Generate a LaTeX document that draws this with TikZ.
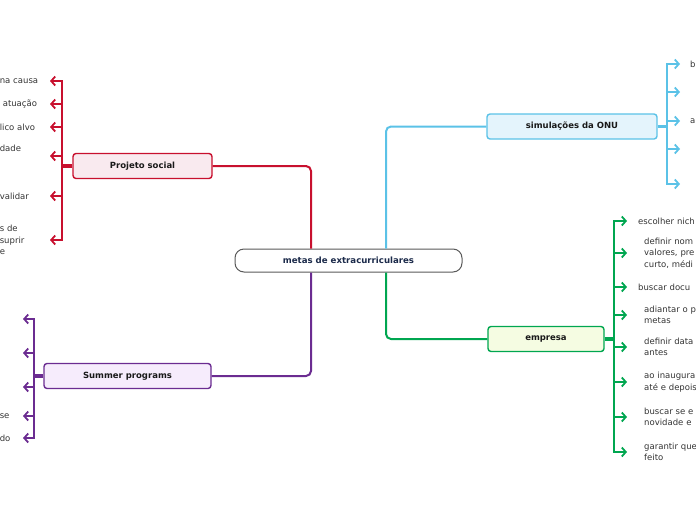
\documentclass[tikz,border=0pt]{standalone}
\usepackage{fontspec}
\setmainfont{DejaVu Sans}
\usetikzlibrary{arrows.meta}
\definecolor{rosso}{HTML}{C8102E}
\definecolor{rossobg}{HTML}{F9EAEF}
\definecolor{ceu}{HTML}{5BC2E7}
\definecolor{ceubg}{HTML}{E4F4FC}
\definecolor{verde}{HTML}{00A650}
\definecolor{verdebg}{HTML}{F5FCE2}
\definecolor{roxo}{HTML}{6B2C91}
\definecolor{roxobg}{HTML}{F6ECFC}
\definecolor{navy}{HTML}{1B2A4A}
\tikzset{
  root/.style={rectangle,draw=black!65,fill=white,line width=1pt,rounded corners=9pt,minimum width=227pt,minimum height=23pt,font=\fontsize{8.6}{10}\selectfont\bfseries,text=navy},
  topic/.style={rectangle,draw=#1,fill=#1bg,line width=1.4pt,rounded corners=3pt,minimum height=25pt,font=\fontsize{8.5}{10}\selectfont\bfseries,text=black!90},
  leaf/.style={font=\fontsize{8.5}{11.5}\selectfont,text=black!80,align=left,inner ysep=0pt},
  leafL/.style={leaf,anchor=east,inner xsep=0pt,text width=#1},
  leafR/.style={leaf,anchor=west,inner xsep=11pt,text width=80pt},
  indent/.style={inner xsep=17pt},
  branch/.style={draw=#1,line width=2pt,rounded corners=5pt},
  stub/.style={draw=#1,line width=3.5pt},
  line/.style={draw=#1,line width=1.8pt,-{Straight Barb[length=4pt,width=9pt]}}
}
\begin{document}
\begin{tikzpicture}[x=1pt,y=-1pt]
\useasboundingbox (0,0) rectangle (696,520);
% centro
\node[root] (cn) at (348.5,260.5) {metas de extracurriculares};
\node[topic=rosso, minimum width=139pt] (ps) at (142.5,166) {Projeto social};
\node[topic=roxo, minimum width=167pt] (sp) at (127.5,376) {Summer programs};
\node[topic=ceu, minimum width=170pt] (onu) at (572,126.5) {simulações da ONU};
\node[topic=verde, minimum width=116pt] (emp) at (546,339) {empresa};
\draw[branch=rosso] ([xshift=-37.5]cn.north) |- (ps.east);
\draw[branch=ceu] ([xshift=37.5]cn.north) |- (onu.west);
\draw[branch=roxo] ([xshift=-37.5]cn.south) |- (sp.east);
\draw[branch=verde] ([xshift=37.5]cn.south) |- (emp.west);

% Projeto social
\coordinate (rsp) at ([xshift=-10]ps.west);
\node[leafL=50pt] (r1) at (50,81) {na causa};
\node[leafL=50pt] (r2) at (50,104) {\hspace*{3pt}atuação};
\node[leafL=50pt] (r3) at (50,127) {lico alvo};
\node[leafL=50pt] (r4) at (50,156) {dade\\\strut};
\node[leafL=50pt] (r5) at (50,196) {validar};
\node[leafL=50pt] (r6) at (50,240) {s de\\suprir\\e};
\draw[stub=rosso] (ps.west) -- (rsp);
\foreach \n in {r1,r2,r3,r4,r5,r6}
  \draw[line=rosso] (rsp) |- (\n.east);

% Summer programs
\coordinate (psp) at ([xshift=-9]sp.west);
\node[leafL=23pt] (p1) at (23,319) {};
\node[leafL=23pt] (p2) at (23,353) {};
\node[leafL=23pt] (p3) at (23,387) {};
\node[leafL=23pt] (p4) at (23,416) {se};
\node[leafL=23pt] (p5) at (23,438) {do};
\draw[stub=roxo] (sp.west) -- (psp);
\foreach \n in {p1,p2,p3,p4,p5}
  \draw[line=roxo] (psp) |- (\n.east);

% simulações da ONU
\coordinate (bsp) at ([xshift=9]onu.east);
\node[leafR, inner xsep=10pt] (b1) at (680,64) {b};
\node[leafR] (b2) at (680,92) {};
\node[leafR, inner xsep=10pt] (b3) at (680,121) {a};
\node[leafR] (b4) at (680,149) {};
\node[leafR] (b5) at (680,184) {};
\draw[stub=ceu] (onu.east) -- (bsp);
\foreach \n in {b1,b2,b3,b4,b5}
  \draw[line=ceu] (bsp) |- (\n.west);

% empresa
\coordinate (gsp) at ([xshift=9]emp.east);
\node[leafR] (g1) at (627,221) {escolher nich};
\node[leafR, indent] (g2) at (627,253) {definir nom\\valores, pre\\curto, médi};
\node[leafR] (g3) at (627,287) {buscar docu};
\node[leafR, indent] (g4) at (627,315) {adiantar o p\\metas};
\node[leafR, indent] (g5) at (627,347) {definir data\\antes};
\node[leafR, indent] (g6) at (627,382) {ao inaugura\\até e depois};
\node[leafR, indent] (g7) at (627,417) {buscar se e\\novidade e};
\node[leafR, indent] (g8) at (627,452) {garantir que\\feito};
\draw[stub=verde] (emp.east) -- (gsp);
\foreach \n in {g1,g2,g3,g4,g5,g6,g7,g8}
  \draw[line=verde] (gsp) |- (\n.west);
\end{tikzpicture}
\end{document}
